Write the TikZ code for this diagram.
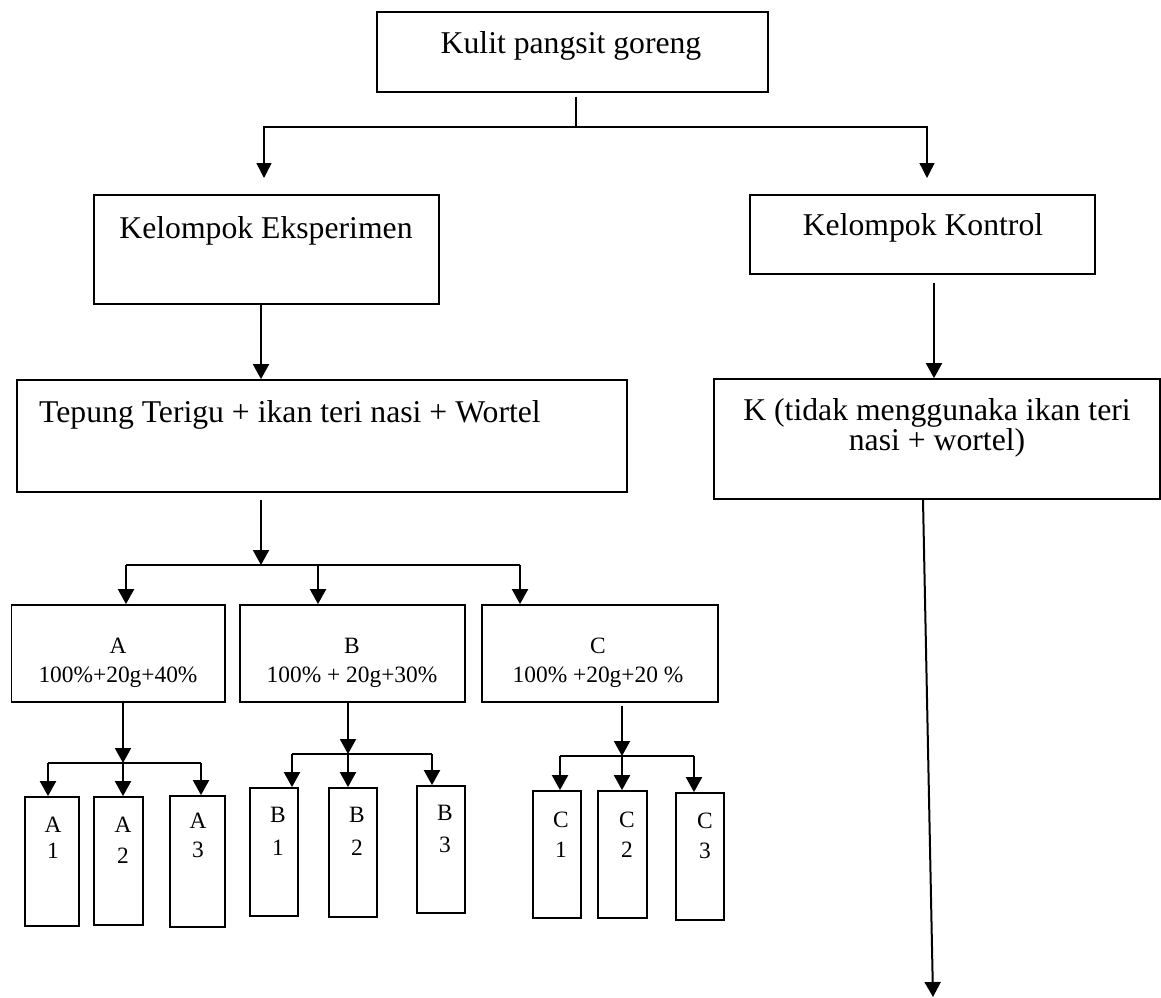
\documentclass[tikz,border=0pt]{standalone}
\usepackage{fontspec}
\setmainfont{Liberation Serif}
\usetikzlibrary{arrows.meta,fit}
\begin{document}
\begin{tikzpicture}[x=1pt,y=-1pt,
  box/.style={draw,line width=1.8pt,inner sep=0pt,fit={#1}},
  big/.style={inner sep=0pt,anchor=base,font=\fontsize{31.7pt}{36pt}\selectfont},
  small/.style={inner sep=0pt,anchor=base,font=\fontsize{23.4pt}{27pt}\selectfont},
  thinl/.style={line width=1.3pt},
  ln/.style={line width=2pt},
  arr/.style={line width=2pt,-{Triangle[width=16pt,length=15pt]}},
  tarr/.style={line width=1.4pt,-{Triangle[width=15pt,length=15pt]}}]
\useasboundingbox (0,0) rectangle (1161,997);
% boxes
\node[box={(377,12) (768,92)}] (kulit) {};
\node[big] (tkulit) at (571,53) {Kulit pangsit goreng};
\node[box={(94,195) (439,304)}] (eks) {};
\node[big] (teks) at (266,238) {Kelompok Eksperimen};
\node[box={(750,195) (1095,274)}] (kon) {};
\node[big] (tkon) at (923,235) {Kelompok Kontrol};
\node[box={(17,380) (627,492)}] (tep) {};
\node[big,anchor=base west] (ttep) at (39,422) {Tepung Terigu + ikan teri nasi + Wortel};
\node[box={(714,379) (1160,499)}] (kk) {};
\node[big] (tkk1) at (937,420) {K (tidak menggunaka ikan teri};
\node[big] (tkk2) at (937,450) {nasi + wortel)};
% A B C
\node[box={(11.5,605) (225,702)}] (ba) {};
\node[small] (tba1) at (118,653) {A};
\node[small] (tba2) at (118,682) {100\%+20g+40\%};
\node[box={(240,605) (465,702)}] (bb) {};
\node[small] (tbb1) at (352,653) {B};
\node[small] (tbb2) at (352,682) {100\% + 20g+30\%};
\node[box={(482,605) (718,702)}] (bc) {};
\node[small] (tbc1) at (598,653) {C};
\node[small] (tbc2) at (598,682) {100\% +20g+20 \%};
% sub boxes
\node[box={(25,797) (79,926)}] (a1) {};
\node[small] (ta1a) at (53,832) {A};
\node[small] (ta1b) at (53,858) {1};
\node[box={(94,797) (143,925)}] (a2) {};
\node[small] (ta2a) at (123,832) {A};
\node[small] (ta2b) at (123,863) {2};
\node[box={(170,796) (225,927)}] (a3) {};
\node[small] (ta3a) at (198,828) {A};
\node[small] (ta3b) at (198,857) {3};
\node[box={(250,788) (298,916)}] (b1) {};
\node[small] (tb1a) at (278,822) {B};
\node[small] (tb1b) at (278,855) {1};
\node[box={(329,788) (377,917)}] (b2) {};
\node[small] (tb2a) at (357,822) {B};
\node[small] (tb2b) at (357,855) {2};
\node[box={(417,786) (465,913)}] (b3) {};
\node[small] (tb3a) at (445,820) {B};
\node[small] (tb3b) at (445,852) {3};
\node[box={(533,791) (581,918)}] (c1) {};
\node[small] (tc1a) at (561,827) {C};
\node[small] (tc1b) at (561,857) {1};
\node[box={(598,791) (647,918)}] (c2) {};
\node[small] (tc2a) at (627,827) {C};
\node[small] (tc2b) at (627,857) {2};
\node[box={(676,793) (724,920)}] (c3) {};
\node[small] (tc3a) at (705,828) {C};
\node[small] (tc3b) at (705,858) {3};
% junction coordinates
\coordinate (s1) at (576,127);
\coordinate (t1) at (264,178);
\coordinate (t2) at (927,178);
\coordinate (s2) at (261,565);
\coordinate (sa) at (123,763);
\coordinate (sb) at (348,754);
\coordinate (sc) at (622,756);
\coordinate (kend) at (933,997);
% top connectors
\draw[thinl] ([yshift=-4pt]kulit.south -| s1) -- (s1);
\draw[tarr] (s1) -| (t1);
\draw[tarr] (s1) -| (t2);
\draw[arr] (eks.south -| 261,0) -- (tep.north -| 261,0);
\draw[arr] ([yshift=-8pt]kon.south -| 934,0) -- (kk.north -| 934,0);
\draw[arr] (kk.south -| 923,0) -- (kend);
% split to A B C
\draw[arr] ([yshift=-7pt]tep.south -| s2) -- (s2);
\draw[ln] (s2 -| 126,0) -- (s2 -| 520,0);
\draw[arr] (s2 -| 126,0) -- (ba.north -| 126,0);
\draw[arr] (s2 -| 318,0) -- (bb.north -| 318,0);
\draw[arr] (s2 -| 520,0) -- (bc.north -| 520,0);
% A subgroup
\draw[arr] (ba.south -| sa) -- (sa);
\draw[ln] (sa -| 48,0) -- (sa -| 201,0);
\draw[arr] (sa -| 48,0) -- (a1.north -| 48,0);
\draw[arr] (sa) -- (a2.north -| sa);
\draw[arr] (sa -| 201,0) -- (a3.north -| 201,0);
% B subgroup
\draw[arr] (bb.south -| sb) -- (sb);
\draw[ln] (sb -| 292,0) -- (sb -| 432,0);
\draw[arr] (sb -| 292,0) -- (b1.north -| 292,0);
\draw[arr] (sb) -- (b2.north -| sb);
\draw[arr] (sb -| 432,0) -- (b3.north -| 432,0);
% C subgroup
\draw[arr] ([yshift=-3pt]bc.south -| sc) -- (sc);
\draw[ln] (sc -| 560,0) -- (sc -| 694,0);
\draw[arr] (sc -| 560,0) -- (c1.north -| 560,0);
\draw[arr] (sc) -- (c2.north -| sc);
\draw[arr] (sc -| 694,0) -- (c3.north -| 694,0);
\end{tikzpicture}
\end{document}
